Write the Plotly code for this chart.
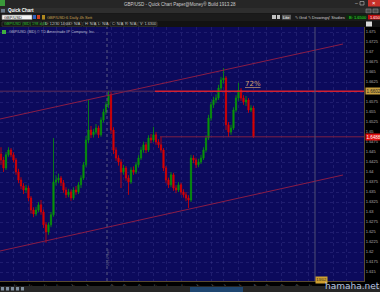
import plotly.graph_objects as go

# ---------------- data ----------------
opens = [1.6445, 1.6430, 1.6410, 1.6443, 1.6455, 1.6443, 1.6430, 1.6400, 1.6380, 1.6365,
         1.6355, 1.6360, 1.6335, 1.6305, 1.6295, 1.6305, 1.6318, 1.6300, 1.6268, 1.6250,
         1.6268, 1.6293, 1.6375, 1.6380, 1.6385, 1.6373, 1.6355, 1.6343, 1.6350, 1.6335,
         1.6355, 1.6350, 1.6368, 1.6385, 1.6418, 1.6480, 1.6505, 1.6493, 1.6500, 1.6510,
         1.6493, 1.6530, 1.6550, 1.6568, 1.6593, 1.6505, 1.6455, 1.6435, 1.6425, 1.6400,
         1.6410, 1.6385, 1.6375, 1.6405, 1.6400, 1.6418, 1.6435, 1.6455, 1.6468, 1.6455,
         1.6485, 1.6480, 1.6493, 1.6475, 1.6468, 1.6455, 1.6410, 1.6380, 1.6368, 1.6393,
         1.6360, 1.6355, 1.6368, 1.6350, 1.6343, 1.6335, 1.6330, 1.6435, 1.6430, 1.6418,
         1.6425, 1.6435, 1.6455, 1.6485, 1.6535, 1.6568, 1.6580, 1.6585, 1.6610, 1.6630,
         1.6635, 1.6518, 1.6500, 1.6510, 1.6555, 1.6585, 1.6605, 1.6585, 1.6575, 1.6580,
         1.6555, 1.6560]
highs = [1.6462, 1.6438, 1.6450, 1.6462, 1.6460, 1.6449, 1.6435, 1.6408, 1.6387, 1.6372,
         1.6368, 1.6366, 1.6340, 1.6312, 1.6313, 1.6325, 1.6330, 1.6306, 1.6275, 1.6274,
         1.6300, 1.6485, 1.6392, 1.6396, 1.6390, 1.6380, 1.6362, 1.6358, 1.6356, 1.6362,
         1.6365, 1.6375, 1.6392, 1.6425, 1.6490, 1.6580, 1.6515, 1.6508, 1.6520, 1.6516,
         1.6537, 1.6558, 1.6576, 1.6603, 1.6600, 1.6512, 1.6462, 1.6442, 1.6432, 1.6418,
         1.6415, 1.6392, 1.6412, 1.6414, 1.6425, 1.6442, 1.6463, 1.6476, 1.6474, 1.6492,
         1.6495, 1.6513, 1.6500, 1.6482, 1.6488, 1.6460, 1.6415, 1.6386, 1.6400, 1.6398,
         1.6367, 1.6375, 1.6373, 1.6357, 1.6350, 1.6342, 1.6443, 1.6442, 1.6436, 1.6433,
         1.6443, 1.6462, 1.6492, 1.6543, 1.6575, 1.6588, 1.6594, 1.6618, 1.6638, 1.6660,
         1.6640, 1.6525, 1.6518, 1.6562, 1.6592, 1.6623, 1.6610, 1.6592, 1.6590, 1.6585,
         1.6567, 1.6565]
lows = [1.6418, 1.6400, 1.6405, 1.6438, 1.6437, 1.6424, 1.6393, 1.6372, 1.6357, 1.6345,
        1.6348, 1.6327, 1.6296, 1.6287, 1.6290, 1.6300, 1.6293, 1.6260, 1.6223, 1.6243,
        1.6262, 1.6288, 1.6366, 1.6372, 1.6365, 1.6348, 1.6335, 1.6337, 1.6328, 1.6330,
        1.6343, 1.6345, 1.6360, 1.6380, 1.6412, 1.6472, 1.6485, 1.6486, 1.6494, 1.6485,
        1.6488, 1.6524, 1.6543, 1.6560, 1.6495, 1.6445, 1.6428, 1.6416, 1.6360, 1.6393,
        1.6378, 1.6343, 1.6370, 1.6393, 1.6395, 1.6412, 1.6430, 1.6448, 1.6447, 1.6450,
        1.6472, 1.6475, 1.6468, 1.6460, 1.6448, 1.6402, 1.6372, 1.6360, 1.6362, 1.6353,
        1.6347, 1.6350, 1.6343, 1.6336, 1.6327, 1.6310, 1.6325, 1.6422, 1.6410, 1.6412,
        1.6420, 1.6430, 1.6450, 1.6480, 1.6528, 1.6560, 1.6572, 1.6580, 1.6604, 1.6622,
        1.6505, 1.6488, 1.6493, 1.6505, 1.6550, 1.6578, 1.6578, 1.6568, 1.6565, 1.6548,
        1.6550, 1.6485]
closes = [1.6430, 1.6410, 1.6443, 1.6455, 1.6443, 1.6430, 1.6400, 1.6380, 1.6365, 1.6355,
          1.6360, 1.6335, 1.6305, 1.6295, 1.6305, 1.6318, 1.6300, 1.6268, 1.6250, 1.6268,
          1.6293, 1.6375, 1.6380, 1.6385, 1.6373, 1.6355, 1.6343, 1.6350, 1.6335, 1.6355,
          1.6350, 1.6368, 1.6385, 1.6418, 1.6480, 1.6505, 1.6493, 1.6500, 1.6510, 1.6493,
          1.6530, 1.6550, 1.6568, 1.6593, 1.6505, 1.6455, 1.6435, 1.6425, 1.6400, 1.6410,
          1.6385, 1.6375, 1.6405, 1.6400, 1.6418, 1.6435, 1.6455, 1.6468, 1.6455, 1.6485,
          1.6480, 1.6493, 1.6475, 1.6468, 1.6455, 1.6410, 1.6380, 1.6368, 1.6393, 1.6360,
          1.6355, 1.6368, 1.6350, 1.6343, 1.6335, 1.6330, 1.6435, 1.6430, 1.6418, 1.6425,
          1.6435, 1.6455, 1.6485, 1.6535, 1.6568, 1.6580, 1.6585, 1.6610, 1.6630, 1.6635,
          1.6518, 1.6500, 1.6510, 1.6555, 1.6585, 1.6605, 1.6585, 1.6575, 1.6580, 1.6555,
          1.6560, 1.6488]

price_tick_vals = [1.6125, 1.615, 1.6175, 1.62, 1.6225, 1.625, 1.6275, 1.63, 1.6325, 1.635,
                   1.6375, 1.64, 1.6425, 1.645, 1.6475, 1.65, 1.6525, 1.655, 1.6575, 1.66,
                   1.6625, 1.665, 1.6675, 1.67, 1.6725, 1.675]
# the 1.66 label sits under the gold price tag in the reference
price_tick_labels = ["1.6125", "1.615", "1.6175", "1.62", "1.6225", "1.625", "1.6275",
                     "1.63", "1.6325", "1.635", "1.6375", "1.64", "1.6425", "1.645",
                     "1.6475", "1.65", "1.6525", "1.655", "1.6575", "",
                     "1.6625", "1.665", "1.6675", "1.67", "1.6725", "1.675"]
date_tick_bars = [5, 11, 17, 22, 28, 34, 44, 49, 55, 61, 66, 72, 78, 84, 89, 95,
                  101, 106, 112, 118, 123, 133, 138]
date_tick_labels = ["11/12", "13/12", "17/12", "19/12", "23/12", "27/12", "02/01",
                    "06/01", "08/01", "10/01", "14/01", "16/01", "20/01", "22/01",
                    "24/01", "28/01", "30/01", "03/02", "05/02", "07/02", "11/02",
                    "17/02", "19/02"]

channel_upper_bars = [-0.4, 136.8]
channel_upper_prices = [1.65325, 1.6720]
channel_lower_bars = [-0.4, 136.8]
channel_lower_prices = [1.62025, 1.63925]
level_high = 1.6602
level_last = 1.6488
year_sep_bar = 42.4
cursor_bar = 125.6
cursor_label = "13/02"
retrace_bar = 100.8
retrace_price = 1.6620
retrace_text = "72%"

# ---------------- geometry helpers (pixels -> paper) ----------------
W, H = 380, 292
ML, MR, MT, MB = 0, 16, 27, 11
PW, PH = W - ML - MR, H - MT - MB


def px(x):
    return (x - ML) / PW


def py(y):
    return (H - MB - y) / PH


shapes = []
ann = []


def rect(x0, y0, x1, y1, fill, line=None):
    shapes.append(dict(type="rect", xref="paper", yref="paper", x0=px(x0), x1=px(x1),
                       y0=py(y1), y1=py(y0), fillcolor=fill,
                       line=dict(width=0.6 if line else 0, color=line or fill), layer="above"))


def text(x, y, s, size=4.5, color="#d0d0d0", anchor="left", bg=None, bold=False, fam="Liberation Sans"):
    ann.append(dict(xref="paper", yref="paper", x=px(x), y=py(y), text=("<b>%s</b>" % s) if bold else s,
                    showarrow=False, xanchor=anchor, yanchor="middle",
                    font=dict(size=size, color=color, family=fam),
                    bgcolor=bg, borderpad=0))


# ---------------- candles ----------------
bars = list(range(len(closes)))
fig = go.Figure(go.Candlestick(
    x=bars, open=opens, high=highs, low=lows, close=closes,
    increasing=dict(line=dict(color="#089408", width=0.8), fillcolor="#089408"),
    decreasing=dict(line=dict(color="#d80000", width=0.8), fillcolor="#d80000"),
    whiskerwidth=0, hoverinfo="skip"))

# ---------------- drawings on chart ----------------
trend_color = "#8a1c46"
shapes.append(dict(type="line", xref="x", yref="y", x0=channel_upper_bars[0], x1=channel_upper_bars[1],
                   y0=channel_upper_prices[0], y1=channel_upper_prices[1],
                   line=dict(color=trend_color, width=1)))
shapes.append(dict(type="line", xref="x", yref="y", x0=channel_lower_bars[0], x1=channel_lower_bars[1],
                   y0=channel_lower_prices[0], y1=channel_lower_prices[1],
                   line=dict(color=trend_color, width=1)))
shapes.append(dict(type="line", xref="paper", yref="y", x0=0, x1=px(155), y0=level_high, y1=level_high,
                   line=dict(color="#5e2a58", width=1)))
shapes.append(dict(type="line", xref="paper", yref="y", x0=px(155), x1=1, y0=level_high, y1=level_high,
                   line=dict(color="#d42030", width=1.5)))
shapes.append(dict(type="line", xref="paper", yref="y", x0=px(160), x1=1, y0=level_last, y1=level_last,
                   line=dict(color="#7e1e44", width=1)))
shapes.append(dict(type="line", xref="x", yref="paper", x0=year_sep_bar, x1=year_sep_bar, y0=0, y1=1,
                   line=dict(color="#5c5c84", width=1, dash="dot")))
shapes.append(dict(type="line", xref="x", yref="paper", x0=cursor_bar, x1=cursor_bar, y0=0, y1=1,
                   line=dict(color="#4e4e74", width=1)))

ann.append(dict(xref="x", yref="y", x=retrace_bar, y=retrace_price, text="<u>%s</u>" % retrace_text,
                showarrow=False, font=dict(size=7, color="#d0a070", family="DejaVu Sans")))
ann.append(dict(xref="paper", yref="y", x=1, y=level_high, text="%.4f" % level_high, showarrow=False,
                xanchor="left", xshift=1, font=dict(size=4.5, color="#202020", family="Liberation Sans"),
                bgcolor="#c8a040", borderpad=0.5))
ann.append(dict(xref="paper", yref="y", x=1, y=level_last, text="%.4f" % level_last, showarrow=False,
                xanchor="left", xshift=1, font=dict(size=4.5, color="#ffffff", family="Liberation Sans"),
                bgcolor="#e01010", borderpad=0.5))
ann.append(dict(xref="x", yref="paper", x=cursor_bar, y=py(283.5), text=cursor_label, showarrow=False,
                xanchor="left", font=dict(size=4, color="#202020", family="Liberation Sans"),
                bgcolor="#d0a030", borderpad=0.3))
ann.append(dict(xref="x", yref="paper", x=year_sep_bar, y=py(268), text="2014 Jan", showarrow=False,
                textangle=-90, font=dict(size=4, color="#5c5c84", family="Liberation Sans")))

# ---------------- window chrome ----------------
rect(0, 0, 380, 8, "#262626")
rect(0, 0, 5, 6, "#3a9a3a")
text(180, 4, "GBP/USD - Quick Chart Paper@Money® Build 1913.28", 4.5, "#cfcfcf", "center")
text(356, 3.5, "–", 5, "#d0d0d0", "center")
rect(360, 1.5, 364, 5, "#262626", "#c0c0c0")
rect(368, 0, 380, 6.5, "#c8312a")
text(374, 3.2, "×", 6, "#ffffff", "center")

rect(0, 8, 380, 13.5, "#2e2e2e")
rect(1, 9, 5, 12.5, "#6a7a8a")
text(7, 10.8, "Quick Chart", 4.5, "#ffffff", bold=True)
rect(366, 9, 371, 13, "#4a4a4a", "#8a8a8a")
rect(373, 9, 378, 13, "#4a4a4a", "#8a8a8a")

rect(0, 13.5, 380, 21, "#1b1b1b")
rect(2, 15, 32, 19.5, "#f4f4f4", "#888888")
text(3, 17.3, "GBP/USD", 4, "#101010")
rect(33, 15, 36, 19, "#3060c0")
rect(37, 15, 40, 19, "#d04020")
rect(42, 15, 45, 19.5, "#b08a20")
text(46, 17.3, "GBP/USD:6 Daily 4h Sett", 4, "#c8a050")
rect(272, 15, 276, 19, "#c0c0c0")
rect(277, 15, 280, 19, "#c0c0c0")
rect(282, 14.8, 291, 19.5, "#5c5c5c")
text(286.5, 17.3, "Lite", 4, "#ffffff", "center")
text(294, 17.3, "✎ Grid", 4, "#d0d0d0")
text(307, 17.3, "✎ Drawings", 4, "#d0d0d0")
text(327, 17.3, "ƒ Studies", 4, "#d0d0d0")
rect(346, 14.8, 366, 19.5, "#0d2a0d")
text(348, 17.3, "B: 1.6500", 4, "#30e030")
rect(368, 14.8, 380, 19.5, "#c01010")
text(369, 17.3, "1.650", 4, "#ffffff")

rect(0, 21, 380, 27, "#121212")
info_items = [("GBP/USD (BID) 198 d 4h", 2, 42, "#30c030"), ("D: 12/30 14:00", 43, 65, "#c8c8c8"),
              ("O: N/A", 67, 82, "#c8c8c8"), ("H: N/A", 83, 95, "#c8c8c8"), ("L: N/A", 96, 108, "#c8c8c8"),
              ("C: N/A", 110, 122, "#c8c8c8"), ("R: N/A", 123, 137, "#c8c8c8"), ("V: 1.6300", 138, 157, "#c8c8c8")]
for s, a, b, c in info_items:
    rect(a, 22, b, 26.2, "#121212", "#4a4a4a")
    text(a + 1, 24.2, s, 3.8, c)
rect(366, 21.5, 372, 26.5, "#d8d8d8")

# legend line inside the plot
rect(2, 30, 6, 34, "#40b040")
text(8, 32.2, "GBP/USD (BID) © TD Ameritrade IP Company, Inc.", 3.8, "#b8b8d0")

# bottom bar
rect(0, 286, 380, 292, "#262626")
for i in range(5):
    rect(1 + 5 * i, 287, 4 + 5 * i, 290.5, "#8090a0")
rect(190, 287, 243, 292, "#1f4670")
text(352, 286.3, "hamaha.net", 9, "rgba(200,218,250,0.9)", "center", fam="DejaVu Sans")

grid = "rgba(100,100,180,0.22)"
fig.update_layout(
    width=W, height=H, margin=dict(l=ML, r=MR, t=MT, b=MB, pad=0),
    paper_bgcolor="#000000", plot_bgcolor="#0c0a5c", showlegend=False,
    shapes=shapes, annotations=ann,
    xaxis=dict(range=[-0.4, 145.2], rangeslider=dict(visible=False), tickvals=date_tick_bars,
               ticktext=date_tick_labels, tickfont=dict(size=4, color="#9a9a9a", family="Liberation Sans"),
               showgrid=True, gridcolor=grid, griddash="dot", gridwidth=1,
               zeroline=False, showline=True, linecolor="#5a4a30", ticks="", automargin=False,
               fixedrange=True),
    yaxis=dict(side="right", range=[1.61275, 1.67625], tickvals=price_tick_vals,
               ticktext=price_tick_labels, tickfont=dict(size=4, color="#b0b0b0", family="Liberation Sans"),
               showgrid=True, gridcolor=grid, griddash="dot", gridwidth=1,
               zeroline=False, showline=True, linecolor="#5a4a30", ticks="", automargin=False,
               fixedrange=True),
)

fig.write_html("out.html", config={"displayModeBar": False})
